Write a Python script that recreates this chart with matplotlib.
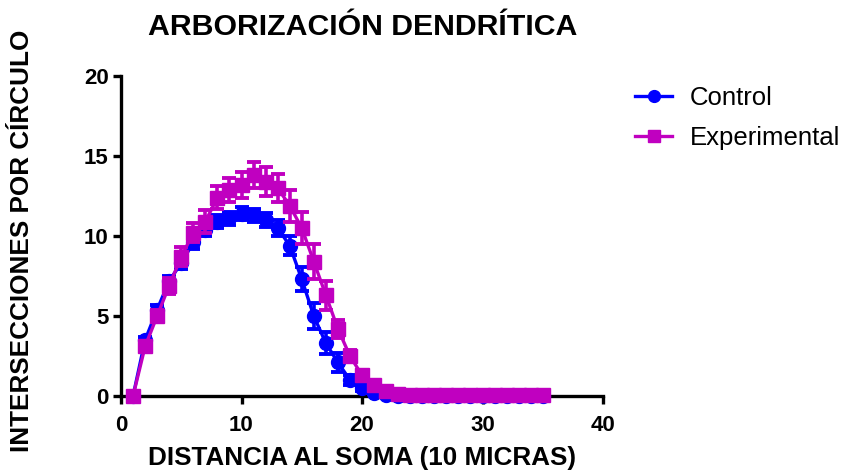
import numpy as np
import matplotlib
matplotlib.use("Agg")
import matplotlib.pyplot as plt
from matplotlib.lines import Line2D

plt.rcParams['font.family'] = ['Liberation Sans', 'DejaVu Sans']

# distance from soma (in 10 micron steps)
distancia = list(range(1, 36))

# mean intersections per circle
control = [0, 3.5, 5.4, 7.2, 8.3, 9.6, 10.4, 10.9, 11.1, 11.4,
           11.3, 11.0, 10.5, 9.4, 7.3, 5.0, 3.3, 2.1, 1.0, 0.5,
           0.2, 0.05, 0, 0, 0, 0, 0, 0, 0, 0,
           0, 0, 0, 0, 0]
control_sem = [0, 0.2, 0.3, 0.3, 0.35, 0.4, 0.4, 0.4, 0.4, 0.4,
               0.4, 0.45, 0.5, 0.6, 0.75, 0.8, 0.7, 0.6, 0.3, 0.2,
               0.1, 0.05, 0, 0, 0, 0, 0, 0, 0, 0,
               0, 0, 0, 0, 0]

experimental = [0, 3.1, 5.0, 6.9, 8.7, 10.2, 10.9, 12.4, 12.9, 13.2,
                13.8, 13.4, 13.0, 11.9, 10.5, 8.4, 6.3, 4.2, 2.5, 1.3,
                0.7, 0.3, 0.1, 0.05, 0.05, 0.05, 0.05, 0.05, 0.05, 0.05,
                0.05, 0.05, 0.05, 0.05, 0.05]
experimental_sem = [0, 0.3, 0.4, 0.5, 0.6, 0.6, 0.7, 0.7, 0.75, 0.8,
                    0.8, 0.9, 0.9, 1.0, 1.0, 1.1, 0.9, 0.55, 0.4, 0.3,
                    0.2, 0.1, 0.05, 0, 0, 0, 0, 0, 0, 0,
                    0, 0, 0, 0, 0]

AZUL = '#0000FF'
MAGENTA = '#C000C0'

fig = plt.figure(figsize=(8.43, 4.72), dpi=100)
ax = fig.add_axes([121 / 843, 76 / 472, 482 / 843, 320 / 472])

ax.errorbar(distancia, control, yerr=control_sem, color=AZUL,
            marker='o', markersize=10, linewidth=2.4, elinewidth=2.6,
            capsize=5, capthick=2.8, clip_on=False, zorder=3)
ax.errorbar(distancia, experimental, yerr=experimental_sem, color=MAGENTA,
            marker='s', markersize=9.5, linewidth=2.4, elinewidth=2.6,
            capsize=5, capthick=2.8, clip_on=False, zorder=4)

ax.set_xlim(0, 40)
ax.set_ylim(0, 20)
ax.set_xticks([0, 10, 20, 30, 40])
ax.set_yticks([0, 5, 10, 15, 20])
ax.spines['top'].set_visible(False)
ax.spines['right'].set_visible(False)
for s in ['left', 'bottom']:
    ax.spines[s].set_linewidth(2.4)
ax.tick_params(width=2.4, length=6, labelsize=16)
ax.tick_params(axis='x', pad=8)
ax.tick_params(axis='y', pad=3)
for lbl in ax.get_xticklabels() + ax.get_yticklabels():
    lbl.set_fontweight('bold')

fig.text(362 / 843, 1 - 458 / 472, 'DISTANCIA AL SOMA (10 MICRAS)', fontsize=18.8,
         fontweight='bold', ha='center', va='center')
fig.text(22 / 843, 1 - 241 / 472, 'INTERSECCIONES POR CÍRCULO', rotation=90,
         fontsize=18.8, fontweight='bold', ha='center', va='center')
fig.text(363 / 843, 1 - 27 / 472, 'ARBORIZACIÓN DENDRÍTICA', fontsize=21.8,
         fontweight='bold', ha='center', va='center')

handles = [Line2D([], [], color=AZUL, marker='o', markersize=8.5, linewidth=2.4),
           Line2D([], [], color=MAGENTA, marker='s', markersize=8, linewidth=2.4)]
fig.legend(handles, ['Control', 'Experimental'], loc='center left',
           bbox_to_anchor=(635 / 843, 1 - 118 / 472), frameon=False,
           fontsize=18.5, handlelength=1.45, handletextpad=0.7, labelspacing=0.6,
           borderpad=0, borderaxespad=0)

fig.savefig('out.png', dpi=100)
